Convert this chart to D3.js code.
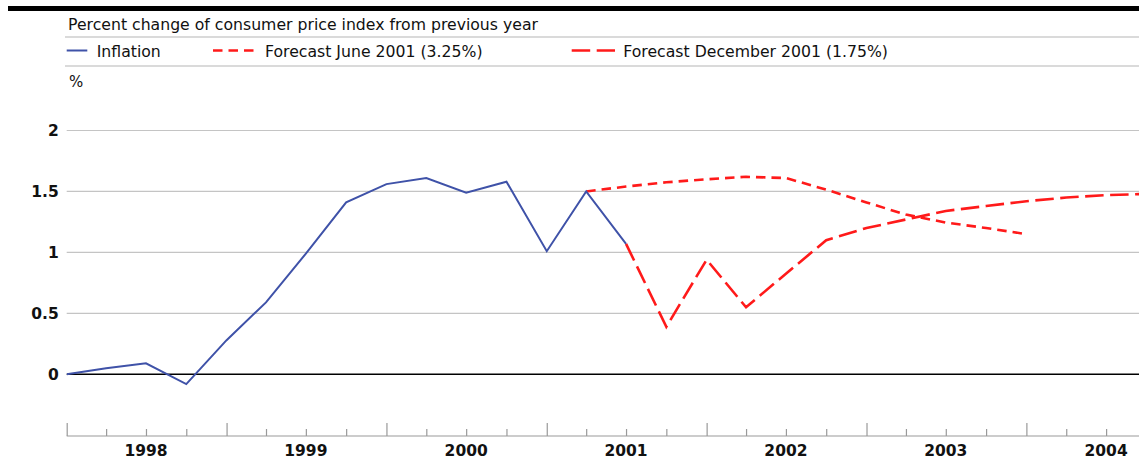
<!DOCTYPE html>
<html>
<head>
<meta charset="utf-8">
<script src="https://cdn.jsdelivr.net/npm/d3@7"></script>
<style>
  body { margin: 0; background: #fff; }
  svg { display: block; }
  text { font-family: "DejaVu Sans", sans-serif; fill: #111; }
</style>
</head>
<body>
<div id="chart"></div>
<script>
// quarterly values, percent change from previous year
const inflationDates = ["1998-01","1998-04","1998-07","1998-10","1999-01","1999-04","1999-07","1999-10",
  "2000-01","2000-04","2000-07","2000-10","2001-01","2001-04","2001-07"];
const inflation = [0, 0.05, 0.09, -0.08, 0.28, 0.59, 0.99, 1.41, 1.56, 1.61, 1.49, 1.58, 1.01, 1.50, 1.07];

const juneDates = ["2001-04","2001-07","2001-10","2002-01","2002-04","2002-07","2002-10","2003-01",
  "2003-04","2003-07","2003-10","2004-01"];
const juneForecast = [1.50, 1.54, 1.575, 1.60, 1.62, 1.61, 1.515, 1.41, 1.31, 1.245, 1.20, 1.15];

const decDates = ["2001-07","2001-10","2002-01","2002-04","2002-07","2002-10","2003-01","2003-04",
  "2003-07","2003-10","2004-01","2004-04","2004-07","2004-10"];
const decForecast = [1.07, 0.39, 0.94, 0.55, 0.825, 1.10, 1.20, 1.27, 1.34, 1.38, 1.42, 1.45, 1.47, 1.48];

const yTicks = [0, 0.5, 1, 1.5, 2];
const years = ["1998","1999","2000","2001","2002","2003","2004"];

const title = "Percent change of consumer price index from previous year";
const legendLabels = ["Inflation", "Forecast June 2001 (3.25%)", "Forecast December 2001 (1.75%)"];

const width = 1139, height = 459;
const left = 66.7, right = 1139;
const parse = d3.timeParse("%Y-%m");

const x = d3.scaleTime()
  .domain([parse("1998-01"), parse("2005-01")])
  .range([left, left + 7 * 160]);
const y = d3.scaleLinear().domain([0, 2]).range([374.3, 130.5]);

const svg = d3.select("#chart").append("svg")
  .attr("width", width)
  .attr("height", height);

// top rule and header
svg.append("rect").attr("x", 8).attr("y", 6).attr("width", width - 8).attr("height", 5).attr("fill", "#000");
svg.append("text").attr("x", 68).attr("y", 29.5).style("font-size", "15.7px").text(title);
[37, 66].forEach(yy => {
  svg.append("line").attr("x1", 65).attr("x2", width).attr("y1", yy).attr("y2", yy)
    .attr("stroke", "#b5b5b5").attr("stroke-width", 1.2);
});

// legend
const legend = [
  { x1: 66.7, x2: 87.3, tx: 96.7, color: "#3f52a8", dash: null, w: 2 },
  { x1: 213, x2: 255, tx: 265, color: "#ff1a1a", dash: "9.5,6", w: 2.6 },
  { x1: 571.7, x2: 615, tx: 623.3, color: "#ff1a1a", dash: "18.5,6.5", w: 2.6 }
];
legend.forEach((d, i) => {
  svg.append("line").attr("x1", d.x1).attr("x2", d.x2).attr("y1", 50.5).attr("y2", 50.5)
    .attr("stroke", d.color).attr("stroke-width", d.w).attr("stroke-dasharray", d.dash);
  svg.append("text").attr("x", d.tx).attr("y", 56.5).style("font-size", "15.7px").text(legendLabels[i]);
});

svg.append("text").attr("x", 69).attr("y", 87).style("font-size", "15px").text("%");

// gridlines and y labels
const g = svg.append("g");
g.selectAll("line.grid").data(yTicks.filter(v => v !== 0)).enter().append("line")
  .attr("class", "grid")
  .attr("x1", left).attr("x2", right)
  .attr("y1", d => y(d)).attr("y2", d => y(d))
  .attr("stroke", "#c4c4c4").attr("stroke-width", 1.2);

const yAxis = svg.append("g")
  .attr("transform", `translate(${left},0)`)
  .call(d3.axisLeft(y).tickValues(yTicks).tickSize(0).tickPadding(8).tickFormat(d3.format("")));
yAxis.select(".domain").remove();
yAxis.selectAll("text").style("font-size", "15.5px").style("font-weight", "bold")
  .style("font-family", "'DejaVu Sans', sans-serif").attr("fill", "#111");

// zero line
svg.append("line").attr("x1", left).attr("x2", right).attr("y1", y(0)).attr("y2", y(0))
  .attr("stroke", "#000").attr("stroke-width", 1.6);

// x axis with quarterly ticks
const axisY = 436;
const xAxis = svg.append("g")
  .attr("transform", `translate(0,${axisY})`)
  .call(d3.axisBottom(x).ticks(d3.timeMonth.every(3)).tickSize(0).tickFormat(""));
xAxis.select(".domain").remove();
xAxis.append("line").attr("x1", left).attr("x2", right).attr("stroke", "#999").attr("stroke-width", 1.2);
xAxis.selectAll(".tick").each(function(d) {
  if (x(d) > right) { d3.select(this).remove(); return; }
  d3.select(this).select("line")
    .attr("y2", d.getMonth() === 0 ? -13 : -7)
    .attr("stroke", "#999").attr("stroke-width", 1.2);
});

svg.append("g").selectAll("text.year").data(years).enter().append("text")
  .attr("class", "year")
  .attr("x", d => x(parse(d + "-07")))
  .attr("y", 456)
  .attr("text-anchor", "middle")
  .style("font-size", "15.5px").style("font-weight", "bold")
  .text(d => d);

// series
svg.append("clipPath").attr("id", "plot").append("rect")
  .attr("x", left).attr("y", 100).attr("width", right - left).attr("height", 320);

const line = d3.line().x(d => x(d[0])).y(d => y(d[1]));
const plot = svg.append("g").attr("clip-path", "url(#plot)");

plot.append("path")
  .datum(juneDates.map((d, i) => [parse(d), juneForecast[i]]))
  .attr("d", line).attr("fill", "none")
  .attr("stroke", "#ff1a1a").attr("stroke-width", 2.6).attr("stroke-dasharray", "9.5,6");

plot.append("path")
  .datum(decDates.map((d, i) => [parse(d), decForecast[i]]))
  .attr("d", line).attr("fill", "none")
  .attr("stroke", "#ff1a1a").attr("stroke-width", 2.6).attr("stroke-dasharray", "18.5,6.5");

plot.append("path")
  .datum(inflationDates.map((d, i) => [parse(d), inflation[i]]))
  .attr("d", line).attr("fill", "none")
  .attr("stroke", "#3f52a8").attr("stroke-width", 2).attr("stroke-linejoin", "miter");
</script>
</body>
</html>
